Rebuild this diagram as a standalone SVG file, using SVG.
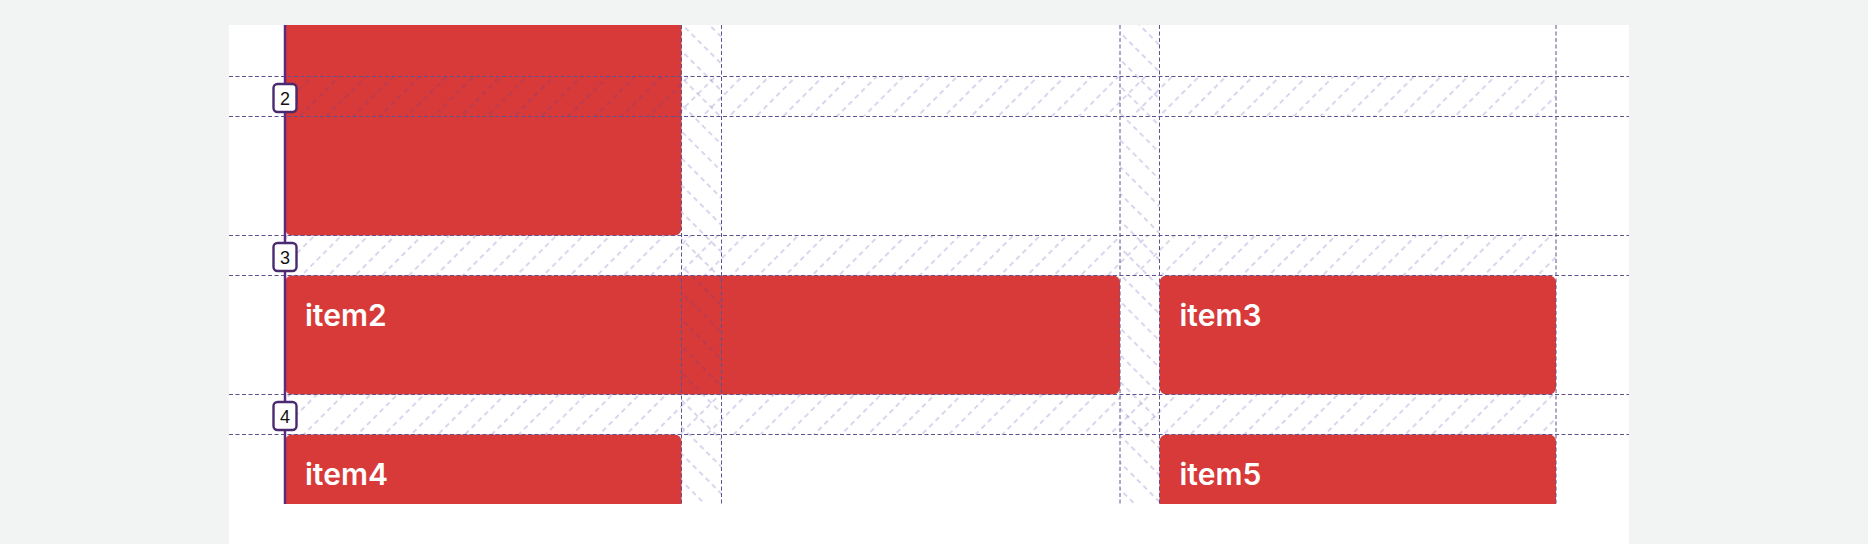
<svg xmlns="http://www.w3.org/2000/svg" width="1868" height="544" viewBox="0 0 1868 544">
  <style>
    .item { fill: #d73a38; }
    .label { font-family: Inter, "Liberation Sans", sans-serif; font-weight: 600; font-size: 30px; fill: #ffffff; }
    .gl { stroke: #5f5290; stroke-width: 1; stroke-dasharray: 4 2.5; fill: none; }
    .hatch { stroke: rgb(90,60,170); stroke-opacity: 0.3; stroke-width: 1.4; stroke-dasharray: 5 4; }
    .numbox { fill: #ffffff; stroke: #4a2a6f; stroke-width: 2.4; }
    .num { font-family: "Liberation Sans", Arial, sans-serif; font-size: 18px; fill: #111111; text-anchor: middle; }
  </style>
  <defs>
    <pattern id="hatchRow" patternUnits="userSpaceOnUse" width="19" height="18" patternTransform="rotate(45)">
      <line class="hatch" x1="9" y1="0" x2="9" y2="18"/>
    </pattern>
    <pattern id="hatchCol" patternUnits="userSpaceOnUse" width="19" height="18" patternTransform="rotate(-45)">
      <line class="hatch" x1="9" y1="0" x2="9" y2="18"/>
    </pattern>
    <clipPath id="view">
      <rect x="229" y="25" width="1400" height="479"/>
    </clipPath>
  </defs>

  <rect x="0" y="0" width="1868" height="544" fill="#f2f4f3"/>
  <rect x="229" y="25" width="1400" height="519" fill="#ffffff"/>

  <g clip-path="url(#view)">
    <g id="item1">
      <rect class="item" x="285" y="-20" width="396.5" height="255.5" rx="7"/>
    </g>
    <g id="item2">
      <rect class="item" x="285" y="275.5" width="835" height="119" rx="7"/>
      <text class="label" x="305" y="326">item2</text>
    </g>
    <g id="item3">
      <rect class="item" x="1159.5" y="275.5" width="396.5" height="119" rx="7"/>
      <text class="label" x="1179.5" y="326">item3</text>
    </g>
    <g id="item4">
      <rect class="item" x="285" y="434.5" width="396.5" height="119" rx="7"/>
      <text class="label" x="305" y="485">item4</text>
    </g>
    <g id="item5">
      <rect class="item" x="1159.5" y="434.5" width="396.5" height="119" rx="7"/>
      <text class="label" x="1179.5" y="485">item5</text>
    </g>

    <g id="gaps">
      <rect x="285" y="76.5" width="1271" height="40" fill="url(#hatchRow)"/>
      <rect x="285" y="235.5" width="1271" height="40" fill="url(#hatchRow)"/>
      <rect x="285" y="394.5" width="1271" height="40" fill="url(#hatchRow)"/>
      <rect x="681.5" y="25" width="40" height="479" fill="url(#hatchCol)"/>
      <rect x="1120" y="25" width="39.5" height="479" fill="url(#hatchCol)"/>
    </g>

    <g id="gridlines">
      <line class="gl" x1="229" y1="76.5" x2="1629" y2="76.5"/>
      <line class="gl" x1="229" y1="116.5" x2="1629" y2="116.5"/>
      <line class="gl" x1="229" y1="235.5" x2="1629" y2="235.5"/>
      <line class="gl" x1="229" y1="275.5" x2="1629" y2="275.5"/>
      <line class="gl" x1="229" y1="394.5" x2="1629" y2="394.5"/>
      <line class="gl" x1="229" y1="434.5" x2="1629" y2="434.5"/>
      <line class="gl" x1="681.5" y1="25" x2="681.5" y2="504"/>
      <line class="gl" x1="721.5" y1="25" x2="721.5" y2="504"/>
      <line class="gl" x1="1120" y1="25" x2="1120" y2="504"/>
      <line class="gl" x1="1159.5" y1="25" x2="1159.5" y2="504"/>
      <line class="gl" x1="1556" y1="25" x2="1556" y2="504"/>
      <line x1="285" y1="25" x2="285" y2="504" stroke="#5b2b82" stroke-width="2.5"/>
    </g>
  </g>

  <g id="line-number-2">
    <rect class="numbox" x="273.5" y="84" width="23" height="28" rx="4"/>
    <text class="num" x="285" y="104.5">2</text>
  </g>
  <g id="line-number-3">
    <rect class="numbox" x="273.5" y="243" width="23" height="28" rx="4"/>
    <text class="num" x="285" y="263.5">3</text>
  </g>
  <g id="line-number-4">
    <rect class="numbox" x="273.5" y="402" width="23" height="28" rx="4"/>
    <text class="num" x="285" y="422.5">4</text>
  </g>
</svg>
